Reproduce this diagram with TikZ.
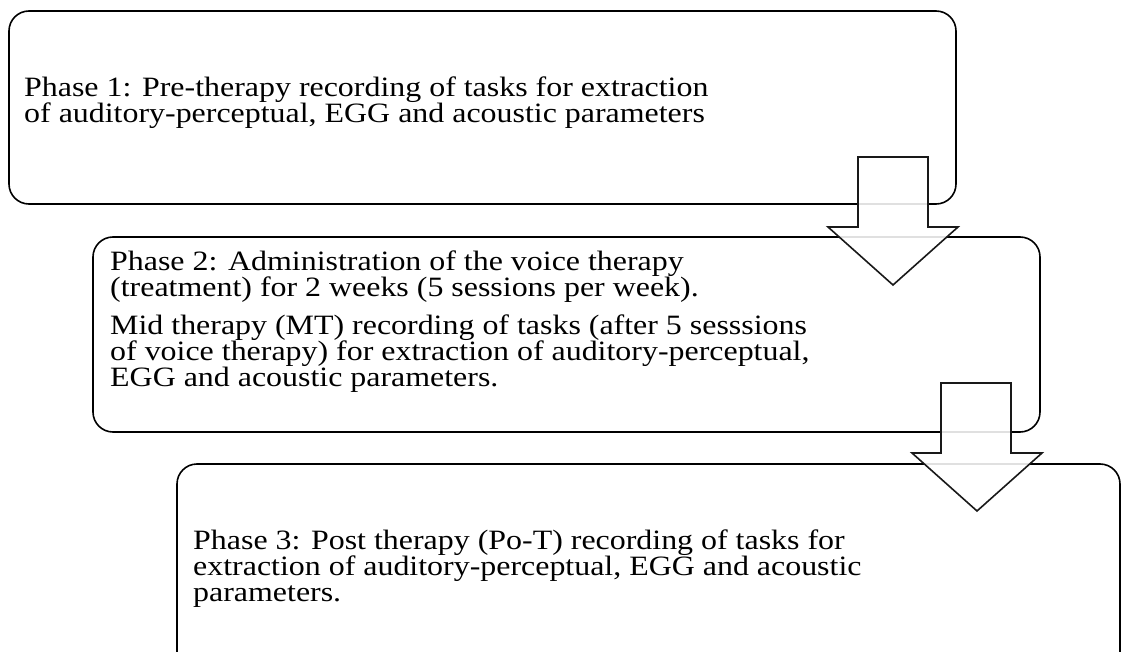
\documentclass[tikz,border=0pt]{standalone}
\usepackage{fontspec}
\setmainfont{Liberation Serif}[FakeStretch=1.14]
\begin{document}
\begin{tikzpicture}[x=1pt,y=-1pt,
  phasebox/.style={draw=black,line width=1.6pt,rounded corners=20pt,fill=white},
  phasetext/.style={anchor=north west,inner sep=0pt,align=left,font=\fontsize{28}{26}\selectfont},
  blockarrow/.style={draw=black!90,line width=1.6pt,fill=white,fill opacity=0.88,line join=miter}]
\useasboundingbox (0,0) rectangle (1121,652);
\clip (0,0) rectangle (1121,652);
\draw[phasebox] (9,11) rectangle (956,204);
\draw[phasebox] (93,237) rectangle (1040,432);
\draw[phasebox] (177,464) rectangle (1120,672);
\node[phasetext] (t1) at (24,77) {Phase 1: Pre-therapy recording of tasks for extraction\\of auditory-perceptual, EGG and acoustic parameters};
\node[phasetext] (t2a) at (110,251) {Phase 2: Administration of the voice therapy\\(treatment) for 2 weeks (5 sessions per week).};
\node[phasetext] (t2b) at (110,315) {Mid therapy (MT) recording of tasks (after 5 sesssions\\of voice therapy) for extraction of auditory-perceptual,\\EGG and acoustic parameters.};
\node[phasetext] (t3) at (193,530) {Phase 3: Post therapy (Po-T) recording of tasks for\\extraction of auditory-perceptual, EGG and acoustic\\parameters.};
\draw[blockarrow] (858,157) -- (928,157) -- (928,227) -- (958,227) -- (893,285) -- (828,227) -- (858,227) -- cycle;
\draw[blockarrow] (941,383) -- (1011,383) -- (1011,453) -- (1042,453) -- (977,511) -- (912,453) -- (941,453) -- cycle;
\end{tikzpicture}
\end{document}
